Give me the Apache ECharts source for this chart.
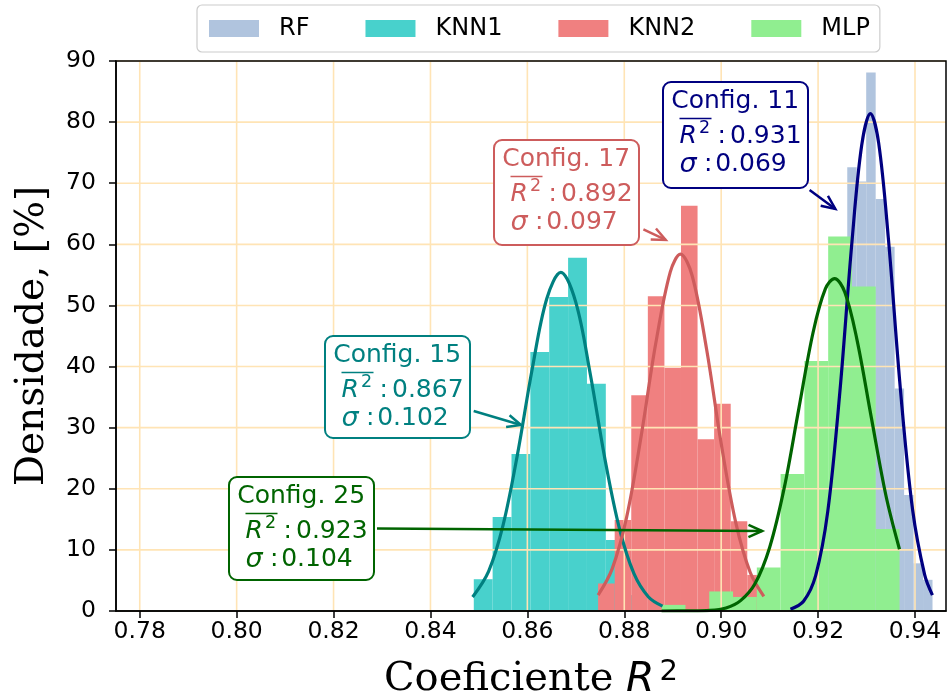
<!DOCTYPE html>
<html><head><meta charset="utf-8">
<script src="https://cdn.jsdelivr.net/npm/echarts@6/dist/echarts.min.js"></script>
<style>html,body{margin:0;padding:0;background:#fff}#c{width:950px;height:698px}</style>
</head><body><div id="c"></div>
<script>
// ---------- data ----------
const seriesNames = ['RF', 'KNN1', 'KNN2', 'MLP'];
const xTicks = [0.78, 0.80, 0.82, 0.84, 0.86, 0.88, 0.90, 0.92, 0.94];
const yTicks = [0, 10, 20, 30, 40, 50, 60, 70, 80, 90];

// histogram bins: first edge, bin width, bar heights (%)
const rfStart = 0.91429, rfWidth = 0.001955;
const rfHeights = [1.0, 2.0, 5.1, 10.3, 20.5, 41.0, 72.6, 70.3, 88.1, 67.4, 59.6, 36.4, 19.0, 7.8, 5.1];
const knn1Start = 0.84894, knn1Width = 0.003893;
const knn1Heights = [5.2, 15.4, 25.7, 42.4, 51.4, 57.8, 37.2, 11.6, 2.6, 0.0];
const knn2Start = 0.87460, knn2Width = 0.003421;
const knn2Heights = [4.5, 14.9, 35.3, 51.5, 39.8, 66.3, 28.1, 33.9, 14.7, 5.9];
const mlpStart = 0.88772, mlpWidth = 0.004909;
const mlpHeights = [1.0, 0.0, 3.2, 2.3, 7.1, 22.4, 40.9, 61.3, 53.1, 13.4];

// fitted density curves
const rfCurveX = [0.9143, 0.9170, 0.9195, 0.9220, 0.9245, 0.9270, 0.9290, 0.9308, 0.9325, 0.9345, 0.9370, 0.9395, 0.9420, 0.9436];
const rfCurveY = [0.3, 1.6, 5.8, 16.3, 35.9, 60.5, 76.2, 81.4, 76.6, 61.0, 36.2, 16.6, 5.9, 2.6];
const knn1CurveX = [0.8487, 0.8520, 0.8550, 0.8580, 0.8610, 0.8640, 0.8669, 0.8700, 0.8730, 0.8760, 0.8790, 0.8820, 0.8850, 0.8879];
const knn1CurveY = [2.3, 6.5, 14.1, 25.8, 39.6, 51.1, 55.4, 50.5, 38.7, 24.9, 13.5, 6.1, 2.3, 0.8];
const knn2CurveX = [0.8746, 0.8775, 0.8805, 0.8835, 0.8865, 0.8895, 0.8916, 0.8940, 0.8970, 0.9000, 0.9030, 0.9060, 0.9088];
const knn2CurveY = [2.6, 6.9, 15.4, 28.7, 43.8, 55.5, 58.4, 54.9, 42.8, 27.4, 14.5, 6.3, 2.4];
const mlpCurveX = [0.8877, 0.8930, 0.8977, 0.9010, 0.9040, 0.9070, 0.9100, 0.9130, 0.9160, 0.9190, 0.9215, 0.9234, 0.9255, 0.9280, 0.9310, 0.9340, 0.9368];
const mlpCurveY = [0.0, 0.02, 0.1, 0.5, 1.7, 4.5, 10.4, 20.1, 33.0, 45.7, 52.7, 54.4, 52.2, 44.5, 31.6, 18.9, 10.1];

// annotations
const annTitles = ['Config. 11', 'Config. 17', 'Config. 15', 'Config. 25'];
const annMeans = ['0.931', '0.892', '0.867', '0.923'];
const annSigmas = ['0.069', '0.097', '0.102', '0.104'];
const annBoxAt = [[0.88807, 86.58], [0.85318, 77.09], [0.81831, 45.01], [0.79839, 21.98]];
const annArrowTo = [[0.92356, 65.79], [0.88855, 60.72], [0.85868, 30.44], [0.90846, 13.09]];

// ---------- styles ----------
const histColors = ['#B0C4DE', '#48D1CC', '#F08080', '#90EE90'];
const curveColors = ['#000080', '#008080', '#CD5C5C', '#006400'];
const annColors = ['#000080', '#CD5C5C', '#008080', '#006400'];
const annBoxH = [106, 105, 102, 103];
const annArrowFrom = [[146.6, 108], [149.4, 89.3], [148.7, 75], [148, 51.6]];
const gridColor = '#FFE4B5';

const chart = echarts.init(document.getElementById('c'), null, {renderer: 'canvas'});

function histSeries(name, color, start, width, heights) {
  const data = heights.map((h, i) => [start + i * width, start + (i + 1) * width, h]);
  return {
    type: 'custom', name: name, color: color, z: 2, data: data,
    encode: {x: [0, 1], y: 2},
    renderItem: function (params, api) {
      const p0 = api.coord([api.value(0), 0]);
      const p1 = api.coord([api.value(1), api.value(2)]);
      return {type: 'rect', shape: {x: p0[0], y: p1[1], width: p1[0] - p0[0], height: p0[1] - p1[1]},
        style: {fill: color}};
    }
  };
}
function curveSeries(name, color, xs, ys) {
  return {
    type: 'line', name: name, data: xs.map((x, i) => [x, ys[i]]), showSymbol: false, smooth: 0.35,
    lineStyle: {color: color, width: 3.2}, itemStyle: {color: color}, z: 4, silent: true
  };
}
const gridSeries = {
  type: 'custom', name: 'gridlines', z: 3, silent: true, data: [[0]],
  renderItem: function (params, api) {
    const children = [];
    xTicks.forEach(v => {
      const a = api.coord([v, 0]), b = api.coord([v, 90]);
      children.push({type: 'line', shape: {x1: a[0], y1: a[1], x2: b[0], y2: b[1]}, style: {stroke: gridColor, lineWidth: 1.6}});
    });
    yTicks.forEach(v => {
      const a = api.coord([0.7751, v]), b = api.coord([0.9464, v]);
      children.push({type: 'line', shape: {x1: a[0], y1: a[1], x2: b[0], y2: b[1]}, style: {stroke: gridColor, lineWidth: 1.6}});
    });
    return {type: 'group', children: children};
  }
};

const tickFont = {fontFamily: 'DejaVu Sans', fontSize: 23.5, color: '#000'};
chart.setOption({
  animation: false,
  backgroundColor: '#fff',
  grid: {left: 116, right: 4, top: 61, bottom: 87, show: true, borderColor: '#000', borderWidth: 1.5, z: 5,
    containLabel: false, outerBoundsMode: 'none'},
  legend: {
    data: seriesNames, left: 197, top: 5, icon: 'rect', itemWidth: 50, itemHeight: 17, itemGap: 56,
    padding: [11.5, 10, 11.5, 12], borderColor: '#cccccc', borderWidth: 1.2, borderRadius: 5, backgroundColor: '#fff',
    selectedMode: false,
    textStyle: {fontFamily: 'DejaVu Sans', fontSize: 24, color: '#000', padding: [0, 0, 0, 15]}
  },
  xAxis: {
    type: 'value', min: 0.7751, max: 0.9464, z: 5,
    name: '{a|Coeficiente }{b|R}{c|2}', nameLocation: 'middle', nameGap: 47,
    nameTextStyle: {rich: {
      a: {fontFamily: 'DejaVu Serif', fontSize: 40, color: '#000', lineHeight: 44},
      b: {fontFamily: 'DejaVu Sans', fontStyle: 'italic', fontSize: 41, color: '#000', lineHeight: 44},
      c: {fontFamily: 'DejaVu Sans', fontSize: 29, color: '#000', verticalAlign: 'top', lineHeight: 28, padding: [0, 0, 0, 5]}
    }},
    axisLine: {show: true, lineStyle: {color: '#000', width: 1.5}},
    axisTick: {show: true, length: 7, customValues: xTicks, lineStyle: {color: '#000', width: 1.5}},
    axisLabel: Object.assign({customValues: xTicks, margin: 9, formatter: v => v.toFixed(2)}, tickFont),
    splitLine: {show: false}
  },
  yAxis: {
    type: 'value', min: 0, max: 90, interval: 10, z: 5,
    name: 'Densidade, [%]', nameLocation: 'middle', nameGap: 64,
    nameTextStyle: {fontFamily: 'DejaVu Serif', fontSize: 39, color: '#000'},
    axisLine: {show: true, lineStyle: {color: '#000', width: 1.5}},
    axisTick: {show: true, length: 7, lineStyle: {color: '#000', width: 1.5}},
    axisLabel: Object.assign({margin: 20}, tickFont),
    splitLine: {show: false}
  },
  series: [
    histSeries('RF', histColors[0], rfStart, rfWidth, rfHeights),
    histSeries('KNN1', histColors[1], knn1Start, knn1Width, knn1Heights),
    histSeries('KNN2', histColors[2], knn2Start, knn2Width, knn2Heights),
    histSeries('MLP', histColors[3], mlpStart, mlpWidth, mlpHeights),
    gridSeries,
    curveSeries('RF fit', curveColors[0], rfCurveX, rfCurveY),
    curveSeries('KNN1 fit', curveColors[1], knn1CurveX, knn1CurveY),
    curveSeries('KNN2 fit', curveColors[2], knn2CurveX, knn2CurveY),
    curveSeries('MLP fit', curveColors[3], mlpCurveX, mlpCurveY)
  ]
});

// ---------- annotations (boxes + arrows), anchored in data coordinates ----------
function buildAnnotations() {
  const els = [];
  annTitles.forEach((title, i) => {
    const p = chart.convertToPixel({gridIndex: 0}, annBoxAt[i]);
    const t = chart.convertToPixel({gridIndex: 0}, annArrowTo[i]);
    const c = annColors[i];
    const x0 = Math.round(p[0]), y0 = Math.round(p[1]);
    const sx = x0 + annArrowFrom[i][0], sy = y0 + annArrowFrom[i][1];
    const ang = Math.atan2(t[1] - sy, t[0] - sx);
    const hl = 15, ha = 0.42;
    els.push({type: 'line', z: 100, shape: {x1: sx, y1: sy, x2: t[0], y2: t[1]}, style: {stroke: c, lineWidth: 2.5}});
    els.push({type: 'polyline', z: 100, shape: {points: [
      [t[0] - hl * Math.cos(ang - ha), t[1] - hl * Math.sin(ang - ha)], [t[0], t[1]],
      [t[0] - hl * Math.cos(ang + ha), t[1] - hl * Math.sin(ang + ha)]]},
      style: {stroke: c, lineWidth: 2.5, fill: null}});
    els.push({type: 'rect', z: 101, shape: {x: x0, y: y0, width: 145, height: annBoxH[i], r: 8},
      style: {fill: '#fff', stroke: c, lineWidth: 2}});
    const txt = (x, y, s, font) => ({type: 'text', z: 102, x: x0 + x, y: y0 + y,
      style: {text: s, fill: c, font: font, textAlign: 'left', textVerticalAlign: 'middle', verticalAlign: 'middle'}});
    const up = '25px "DejaVu Sans"', it = 'italic 25px "DejaVu Sans"';
    els.push(txt(8.2, 19, title, up));
    els.push(txt(16.5, 54, 'R', it));
    els.push(txt(36, 46.5, '2', '17.5px "DejaVu Sans"'));
    els.push(txt(54.5, 54, ':', up));
    els.push(txt(67, 54, annMeans[i], up));
    els.push({type: 'line', z: 102, shape: {x1: x0 + 16.5, y1: y0 + 36.5, x2: x0 + 48.5, y2: y0 + 36.5}, style: {stroke: c, lineWidth: 1.5}});
    els.push(txt(16.5, 82.5, 'σ', 'italic 27px "DejaVu Sans"'));
    els.push(txt(41, 82.5, ':', up));
    els.push(txt(52.2, 82.5, annSigmas[i], up));
  });
  chart.setOption({graphic: {elements: els}});
}
buildAnnotations();
</script>
</body></html>
